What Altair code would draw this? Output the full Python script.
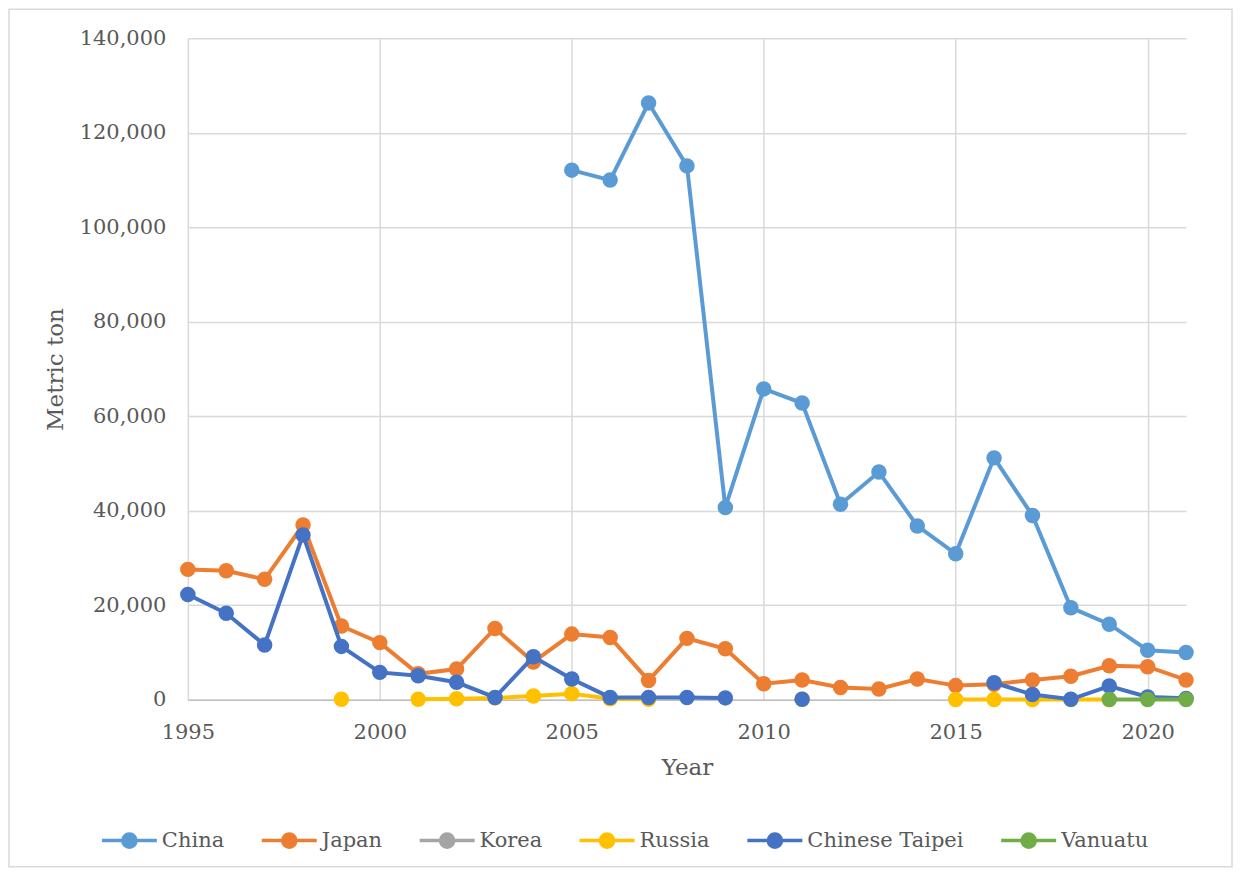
import altair as alt
import pandas as pd

years = list(range(1995, 2022))
countries = ["China", "Japan", "Korea", "Russia", "Chinese Taipei", "Vanuatu"]
colors = ["#5B9BD5", "#ED7D31", "#A5A5A5", "#FFC000", "#4472C4", "#70AD47"]

N = None
china = [N] * 10 + [112100, 110000, 126300, 113000, 40700, 65800, 62800, 41400,
                    48200, 36800, 30900, 51200, 39000, 19500, 16000, 10500, 10000]
japan = [27600, 27300, 25500, 37000, 15600, 12100, 5500, 6500, 15100, 8000,
         13900, 13200, 4100, 13000, 10800, 3400, 4200, 2600, 2300, 4400,
         3000, 3300, 4200, 5000, 7200, 7000, 4200]
korea = [N] * 27
russia = [N, N, N, N, 100, N, 100, 200, 400, 800, 1300, 200, 100, N, N, N,
          100, N, N, N, 50, 50, 50, 50, 50, N, N]
taipei = [22300, 18300, 11600, 34900, 11300, 5800, 5100, 3700, 500, 9100,
          4400, 500, 500, 500, 400, N, 100, N, N, N, N, 3600, 1100, 100,
          2900, 600, 300]
vanuatu = [N] * 24 + [50, 50, 50]

series = {"China": china, "Japan": japan, "Korea": korea, "Russia": russia,
          "Chinese Taipei": taipei, "Vanuatu": vanuatu}

rows = []
for name, vals in series.items():
    for yr, v in zip(years, vals):
        rows.append({"country": name, "year": yr, "value": v})
df = pd.DataFrame(rows)

FONT = "DejaVu Serif"
TXT = "#595959"
GRID = "#d9d9d9"

x_enc = alt.X("year:Q",
              scale=alt.Scale(domain=[1995, 2021], nice=False, zero=False),
              axis=alt.Axis(values=[1995, 2000, 2005, 2010, 2015, 2020], format="d",
                            grid=True, gridColor=GRID, gridWidth=1.5, ticks=False,
                            domainColor="#bfbfbf", domainWidth=1.5,
                            labelFont=FONT, labelFontSize=21, labelColor=TXT,
                            labelPadding=22, labelFlush=False,
                            title="Year", titleFont=FONT, titleFontSize=23,
                            titleFontWeight="normal", titleColor=TXT, titlePadding=14))
y_enc = alt.Y("value:Q",
              scale=alt.Scale(domain=[0, 140000], nice=False),
              axis=alt.Axis(values=list(range(0, 140001, 20000)), format=",d",
                            grid=True, gridColor=GRID, gridWidth=1.5, ticks=False,
                            domain=False,
                            labelFont=FONT, labelFontSize=21, labelColor=TXT,
                            labelPadding=22,
                            title="Metric ton", titleFont=FONT, titleFontSize=23,
                            titleFontWeight="normal", titleColor=TXT, titlePadding=12))

legend = alt.Legend(
    orient="none", legendX=-88, legendY=773, direction="horizontal",
    title=None,
    symbolType="M-1,0L1,0M-0.24,0A0.24,0.24,0,1,0,0.24,0A0.24,0.24,0,1,0,-0.24,0Z",
    symbolSize=3025, symbolStrokeWidth=3.5, symbolOpacity=1,
    labelFont=FONT, labelFontSize=21,
    labelColor=TXT, labelLimit=400, labelOffset=3, columnPadding=30,
)

layers = []
for name in countries:
    d = df[df.country == name]
    if d["value"].isna().all():
        continue
    line = alt.Chart(d).mark_line(strokeWidth=4, invalid="break-paths-filter-domains").encode(
        x=x_enc, y=y_enc,
        stroke=alt.Stroke("country:N", scale=alt.Scale(domain=countries, range=colors),
                          legend=legend),
        order="year:Q")
    pts = alt.Chart(d).mark_point(filled=True, size=240, opacity=1, strokeWidth=0).encode(
        x=x_enc, y=y_enc,
        fill=alt.Fill("country:N", scale=alt.Scale(domain=countries, range=colors),
                      legend=legend))
    layers += [line, pts]

frame = alt.Chart(alt.Data(values=[{"k": 1}])).mark_rect(
    filled=False, stroke=GRID, strokeWidth=1.5, fillOpacity=0).encode(
    x=alt.value(-179), x2=alt.value(1045), y=alt.value(-29), y2=alt.value(829))

chart = alt.layer(frame, *layers).properties(
    width=999, height=662,
    autosize=alt.AutoSizeParams(type="none"),
    padding={"left": 180, "top": 30, "right": 47, "bottom": 168},
    background="white",
).configure_view(strokeWidth=0)

chart.save("out.html", embed_options={"renderer": "svg", "actions": False})
